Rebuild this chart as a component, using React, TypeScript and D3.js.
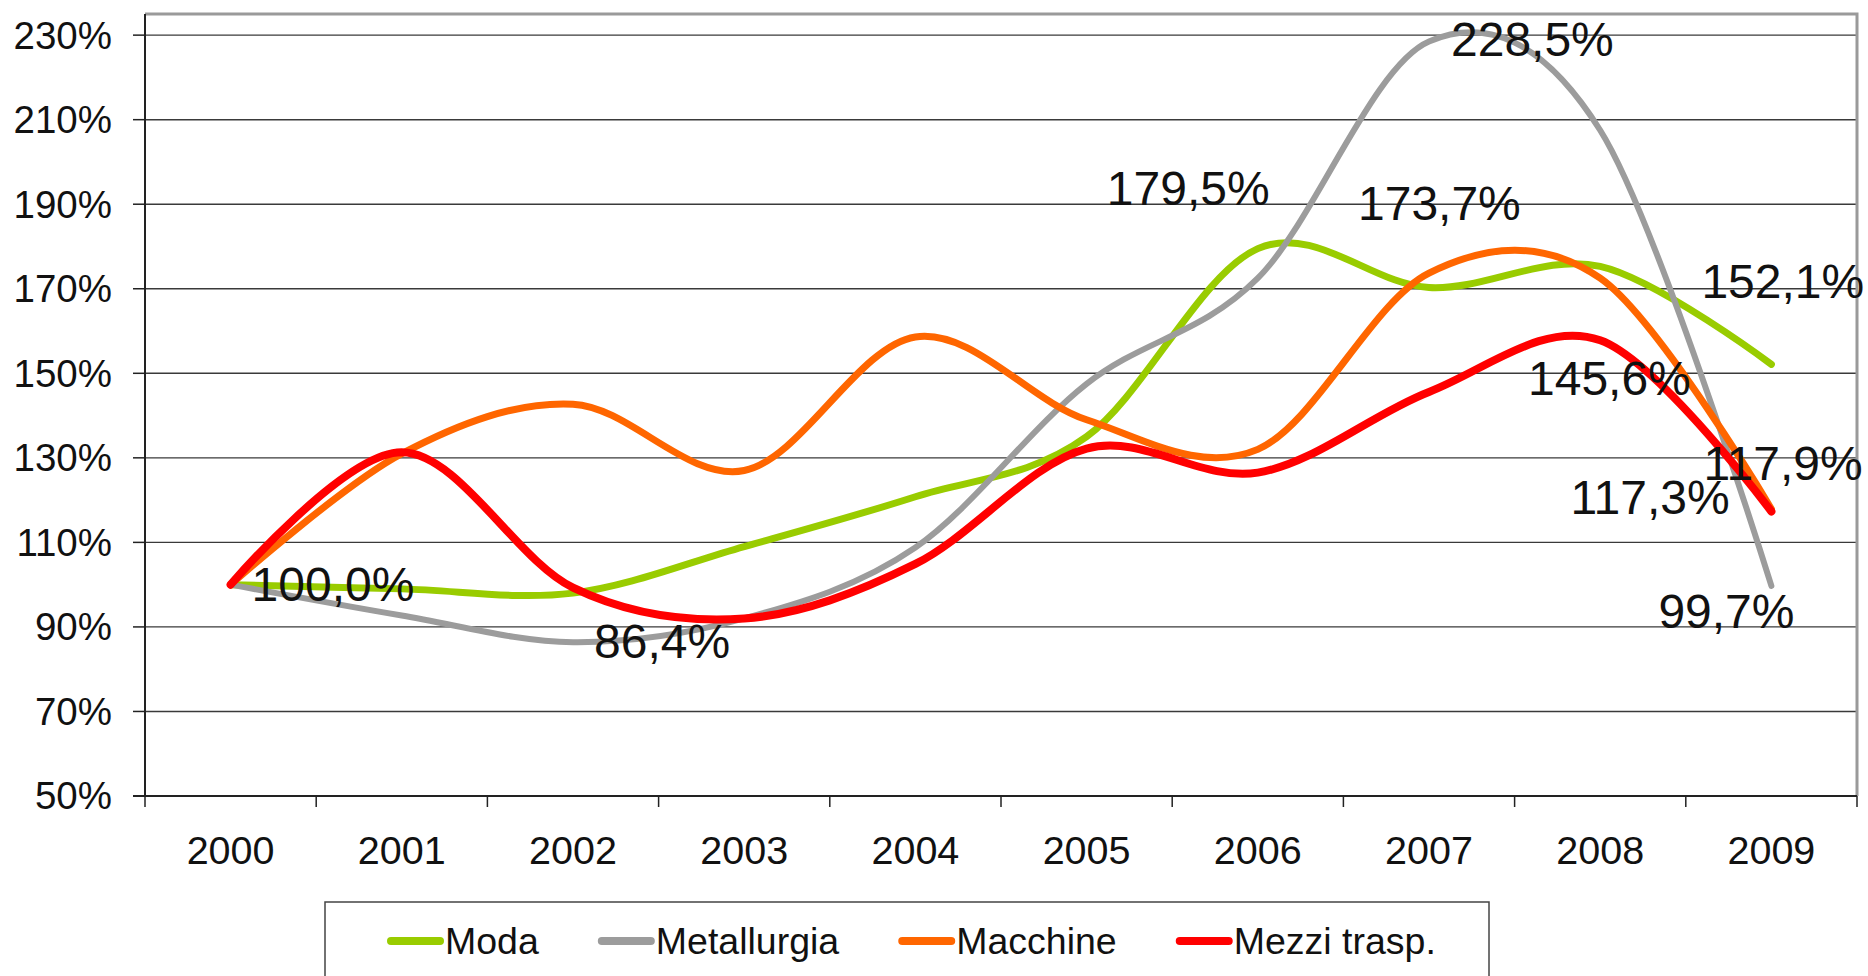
import { useEffect, useRef } from 'react';
import * as d3 from 'd3';

const years = ['2000', '2001', '2002', '2003', '2004', '2005', '2006', '2007', '2008', '2009'];
const seriesNames = ['Moda', 'Metallurgia', 'Macchine', 'Mezzi trasp.'];
const moda = [100, 99.0, 98.0, 109.0, 120.8, 135.0, 179.5, 170.3, 175.3, 152.1];
const metallurgia = [100, 92.7, 86.4, 92.0, 108.8, 147.5, 172.5, 228.5, 207.5, 99.7];
const macchine = [100, 131.0, 142.7, 127.0, 158.6, 139.0, 132.0, 173.7, 172.5, 117.9];
const mezziTrasp = [100, 131.3, 99.3, 92.0, 104.9, 132.2, 126.5, 145.6, 157.8, 117.3];
const yTicks = [50, 70, 90, 110, 130, 150, 170, 190, 210, 230];

// which points carry a value label (series, year)
const labelPoints: [string, string][] = [
    ['Moda', '2000'],
    ['Metallurgia', '2002'],
    ['Moda', '2006'],
    ['Metallurgia', '2007'],
    ['Macchine', '2007'],
    ['Moda', '2009'],
    ['Mezzi trasp.', '2007'],
    ['Macchine', '2009'],
    ['Mezzi trasp.', '2009'],
    ['Metallurgia', '2009'],
];

export default function App() {
    const ref = useRef<SVGSVGElement | null>(null);

    useEffect(() => {
        const width = 1868;
        const height = 976;
        const left = 145;
        const right = 1857;
        const top = 14;
        const bottom = 796;
        const font = '"Liberation Sans", Arial, sans-serif';

        const svg = d3.select(ref.current);
        svg.selectAll('*').remove();
        svg.attr('width', width).attr('height', height);

        svg.append('rect').attr('width', width).attr('height', height).attr('fill', '#ffffff');

        const values = [moda, metallurgia, macchine, mezziTrasp];
        const color = d3.scaleOrdinal<string>()
            .domain(seriesNames)
            .range(['#99cc00', '#9c9c9c', '#ff6600', '#ff0000']);
        const strokeW: Record<string, number> = { Moda: 7, Metallurgia: 6, Macchine: 7, 'Mezzi trasp.': 8 };

        const x = d3.scaleBand<string>().domain(years).range([left, right]);
        const cx = (yr: string) => (x(yr) ?? 0) + x.bandwidth() / 2;
        const y = d3.scaleLinear().domain([50, 235]).range([bottom, top]);

        // === gridlines ===
        svg.append('g')
            .selectAll('line')
            .data(yTicks.filter((t) => t > 50))
            .enter()
            .append('line')
            .attr('x1', left)
            .attr('x2', right)
            .attr('y1', (d) => y(d))
            .attr('y2', (d) => y(d))
            .attr('stroke', '#3a3a3a')
            .attr('stroke-width', 1.4);

        // === plot border (top/right light gray) ===
        svg.append('path')
            .attr('d', `M${left},${top}H${right}V${bottom}`)
            .attr('fill', 'none')
            .attr('stroke', '#9a9a9a')
            .attr('stroke-width', 3);

        // === y axis ===
        const yAxis = svg.append('g');
        yAxis.append('line')
            .attr('x1', left).attr('x2', left)
            .attr('y1', top).attr('y2', bottom)
            .attr('stroke', '#222').attr('stroke-width', 2);
        yAxis.selectAll('.tick')
            .data(yTicks)
            .enter()
            .append('line')
            .attr('x1', left - 12)
            .attr('x2', left)
            .attr('y1', (d) => y(d))
            .attr('y2', (d) => y(d))
            .attr('stroke', '#222')
            .attr('stroke-width', 1.5);
        yAxis.selectAll('text')
            .data(yTicks)
            .enter()
            .append('text')
            .attr('x', 112)
            .attr('y', (d) => y(d))
            .attr('dy', '0.35em')
            .attr('text-anchor', 'end')
            .attr('font-family', font)
            .attr('font-size', 38.5)
            .attr('fill', '#111')
            .text((d) => `${d}%`);

        // === x axis ===
        const xAxis = svg.append('g');
        xAxis.append('line')
            .attr('x1', left - 12).attr('x2', right)
            .attr('y1', bottom).attr('y2', bottom)
            .attr('stroke', '#222').attr('stroke-width', 2);
        const bounds = years.map((yr) => x(yr) ?? 0).concat([right]);
        xAxis.selectAll('.tick')
            .data(bounds)
            .enter()
            .append('line')
            .attr('x1', (d) => d)
            .attr('x2', (d) => d)
            .attr('y1', bottom)
            .attr('y2', bottom + 11)
            .attr('stroke', '#222')
            .attr('stroke-width', 1.5);
        xAxis.selectAll('text')
            .data(years)
            .enter()
            .append('text')
            .attr('x', (d) => cx(d))
            .attr('y', 864)
            .attr('text-anchor', 'middle')
            .attr('font-family', font)
            .attr('font-size', 39.5)
            .attr('fill', '#111')
            .text((d) => d);

        // === smoothed lines ===
        const line = d3.line<number>()
            .x((_, i) => cx(years[i]))
            .y((d) => y(d))
            .curve(d3.curveCardinal.tension(0));

        svg.append('g')
            .selectAll('path')
            .data(seriesNames)
            .enter()
            .append('path')
            .attr('d', (_, i) => line(values[i]))
            .attr('fill', 'none')
            .attr('stroke', (d) => color(d))
            .attr('stroke-width', (d) => strokeW[d])
            .attr('stroke-linecap', 'round')
            .attr('stroke-linejoin', 'round');

        // === value labels (hand-placed like in the original) ===
        const labelShift: [number, number][] = [
            [21, 16], [21, 15.5], [-151, -43.6], [22, 15], [-71, -53],
            [-70, -66], [99, 3], [-68, -29], [-201, 2], [-113, 42],
        ];
        const fmt = (v: number) => `${v.toFixed(1).replace('.', ',')}%`;
        svg.append('g')
            .selectAll('text')
            .data(labelPoints)
            .enter()
            .append('text')
            .attr('x', (d, i) => cx(d[1]) + labelShift[i][0])
            .attr('y', (d, i) => y(values[seriesNames.indexOf(d[0])][years.indexOf(d[1])]) + labelShift[i][1])
            .attr('font-family', font)
            .attr('font-size', 48)
            .attr('fill', '#111')
            .text((d) => fmt(values[seriesNames.indexOf(d[0])][years.indexOf(d[1])]));

        // === legend ===
        const legend = svg.append('g');
        legend.append('rect')
            .attr('x', 325)
            .attr('y', 902)
            .attr('width', 1164)
            .attr('height', 120)
            .attr('fill', '#fff')
            .attr('stroke', '#444')
            .attr('stroke-width', 1.5);

        let lx = 387;
        seriesNames.forEach((name) => {
            const item = legend.append('g');
            item.append('line')
                .attr('x1', lx + 4).attr('x2', lx + 53)
                .attr('y1', 941).attr('y2', 941)
                .attr('stroke', color(name))
                .attr('stroke-width', 8)
                .attr('stroke-linecap', 'round');
            const t = item.append('text')
                .attr('x', lx + 58)
                .attr('y', 941)
                .attr('dy', '0.35em')
                .attr('font-family', font)
                .attr('font-size', 37.5)
                .attr('fill', '#111')
                .text(name);
            const w = (t.node() as SVGTextElement).getComputedTextLength();
            lx += 58 + w + 59;
        });
    }, []);

    return <svg ref={ref} style={{ position: 'absolute', left: 0, top: 0, display: 'block' }} />;
}
